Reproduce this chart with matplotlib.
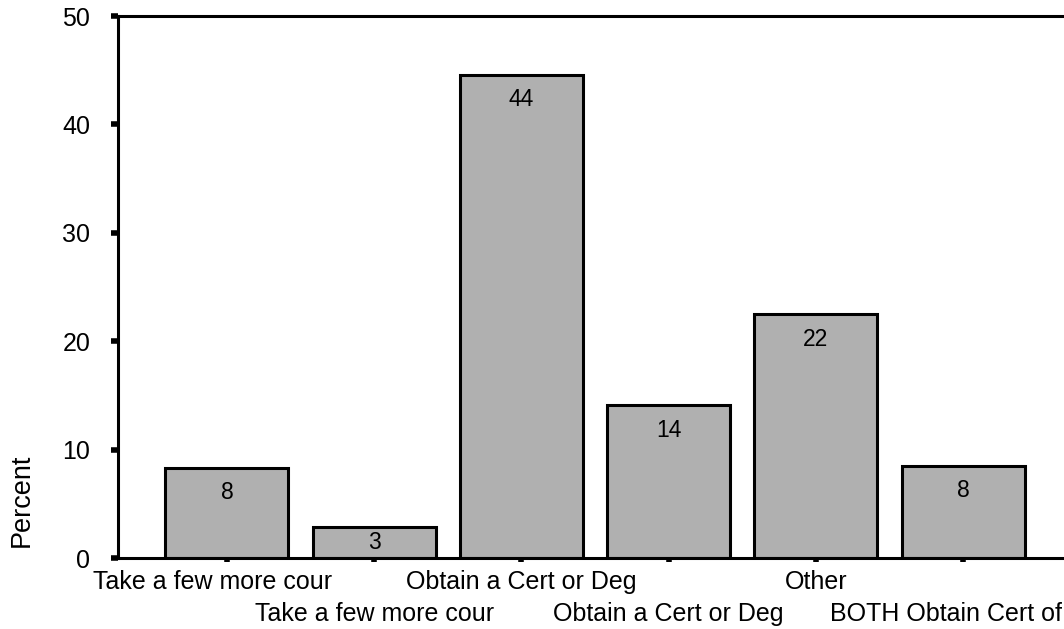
import matplotlib
matplotlib.use("Agg")
import matplotlib.pyplot as plt
from matplotlib.transforms import blended_transform_factory

categories = [
    "Take a few more cour",
    "Take a few more cour",
    "Obtain a Cert or Deg",
    "Obtain a Cert or Deg",
    "Other",
    "BOTH Obtain Cert of",
]
percent = [8.3, 2.85, 44.6, 14.1, 22.5, 8.5]
bar_labels = ["8", "3", "44", "14", "22", "8"]
y_ticks = [0, 10, 20, 30, 40, 50]

plt.rcParams["font.family"] = ["Liberation Sans", "DejaVu Sans"]

fig = plt.figure(figsize=(10.64, 6.29), dpi=100)
ax = fig.add_axes([118 / 1064, 1 - 558 / 629, 960 / 1064, (558 - 16) / 629])

x = list(range(len(categories)))
ax.bar(x, percent, width=0.835, color="#b0b0b0", edgecolor="black",
       linewidth=2.2, zorder=2)

for xi, v, lab in zip(x, percent, bar_labels):
    ypos = max(v / 2, v - 2.3)
    ax.text(xi, ypos, lab, ha="center", va="center", fontsize=16.5,
            color="black", zorder=3)

ax.set_xlim(-0.74, 5.78)
ax.set_ylim(0, 50)
ax.set_yticks(y_ticks)
ax.set_yticklabels([str(t) for t in y_ticks], fontsize=18)
ax.set_xticks(x)
ax.set_xticklabels([""] * len(x))

# category labels in two staggered rows below the axis
trans = blended_transform_factory(ax.transData, ax.transAxes)
n = len(categories)
for i, (xi, c) in enumerate(zip(x, categories)):
    dy = -24 if i % 2 == 0 else -56
    dx = -14 if i == 0 else (-17 if i == n - 1 else 0)
    ax.annotate(c, xy=(xi, 0), xycoords=trans, xytext=(dx, dy),
                textcoords="offset pixels", ha="center", va="center",
                fontsize=18, annotation_clip=False)

ax.tick_params(axis="y", direction="out", length=5, width=4, pad=15)
ax.tick_params(axis="x", direction="out", length=3, width=4, pad=6)

for s in ["left", "top", "bottom"]:
    ax.spines[s].set_linewidth(2.2)
ax.spines["right"].set_visible(False)

ax.set_ylabel("Percent", fontsize=19.5)
ax.yaxis.set_label_coords(-0.087, 0.107)

fig.savefig("out.png", dpi=100)
